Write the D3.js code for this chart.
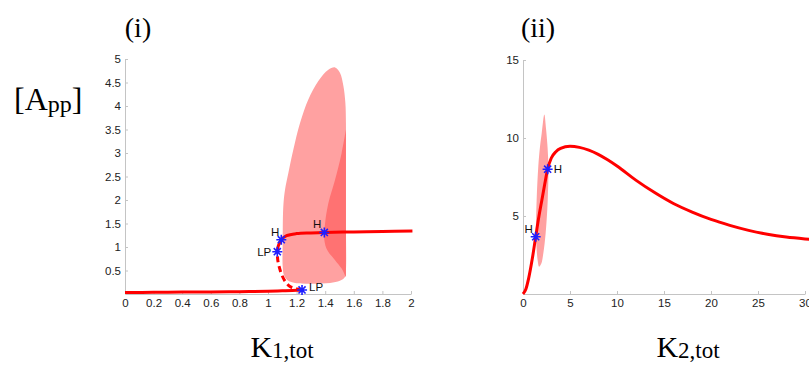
<!DOCTYPE html>
<html>
<head>
<meta charset="utf-8">
<script src="https://cdn.jsdelivr.net/npm/d3@7"></script>
<style>
  body { margin: 0; background: #fff; }
  .tick text { font-family: "Liberation Sans", Arial, sans-serif; font-size: 11.5px; fill: #222; }
  .serif { font-family: "Liberation Serif", "Times New Roman", serif; fill: #000; }
  .lbl { font-family: "Liberation Sans", Arial, sans-serif; font-size: 11.5px; fill: #111; }
</style>
</head>
<body>
<div id="chart"></div>
<script>
// panel (i): bifurcation in K1,tot
const k1Ticks = [0, 0.2, 0.4, 0.6, 0.8, 1, 1.2, 1.4, 1.6, 1.8, 2];
const app1Ticks = [0.5, 1, 1.5, 2, 2.5, 3, 3.5, 4, 4.5, 5];
const lowBranch = [[0, 0.03], [0.2, 0.035], [0.4, 0.04], [0.6, 0.045], [0.8, 0.05], [1.0, 0.06], [1.1, 0.068], [1.2, 0.078], [1.238, 0.086]];
const unstableBranch = [[1.238, 0.086], [1.19, 0.12], [1.154, 0.16], [1.12, 0.27], [1.096, 0.41], [1.078, 0.58], [1.068, 0.73], [1.065, 0.9]];
const upperBranch = [[1.065, 0.9], [1.072, 1.02], [1.093, 1.155], [1.13, 1.24], [1.2, 1.285], [1.3, 1.3], [1.394, 1.31], [1.6, 1.32], [1.8, 1.33], [2.01, 1.34]];
const cycleEnvelope = [[1.469, 4.82], [1.503, 4.71], [1.527, 4.43], [1.541, 4.07], [1.545, 3.64], [1.545, 2.57], [1.545, 1.5], [1.545, 0.51], [1.538, 0.36], [1.503, 0.28], [1.434, 0.235], [1.294, 0.22], [1.189, 0.235], [1.142, 0.28], [1.112, 0.4], [1.103, 0.58], [1.103, 1.15], [1.107, 1.86], [1.119, 2.22], [1.142, 2.57], [1.177, 3.07], [1.224, 3.64], [1.282, 4.14], [1.352, 4.53], [1.422, 4.77]];
const cycleInner = [[1.545, 3.5], [1.515, 3.0], [1.469, 2.43], [1.422, 1.93], [1.399, 1.5], [1.394, 1.15], [1.415, 0.93], [1.469, 0.72], [1.515, 0.54], [1.538, 0.4], [1.545, 0.36]];
const points1 = [
  { name: 'LP', x: 1.238, y: 0.086, dx: 7, dy: 1, anchor: 'start' },
  { name: 'LP', x: 1.065, y: 0.9, dx: -6, dy: 4, anchor: 'end' },
  { name: 'H', x: 1.093, y: 1.155, dx: -2, dy: -4, anchor: 'end' },
  { name: 'H', x: 1.394, y: 1.31, dx: -3, dy: -4, anchor: 'end' }
];

// panel (ii): bifurcation in K2,tot
const k2Ticks = [0, 5, 10, 15, 20, 25, 30];
const app2Ticks = [5, 10, 15];
const k2Curve = [[0, 0], [0.3, 0.3], [0.6, 1.0], [1.0, 2.3], [1.35, 3.67], [1.7, 5.0], [2.0, 6.0], [2.3, 7.0], [2.62, 8.0], [3.0, 8.7], [3.5, 9.12], [4, 9.33], [5, 9.47], [6, 9.4], [7, 9.22], [8, 8.95], [9, 8.6], [10, 8.2], [12, 7.3], [14, 6.5], [16, 5.8], [18, 5.25], [20, 4.78], [22, 4.4], [24, 4.08], [26, 3.83], [28, 3.65], [30, 3.53], [30.6, 3.5]];
const k2Envelope = [[2.27, 11.5], [2.45, 10.6], [2.59, 9.6], [2.7, 8.2], [2.63, 6.0], [2.41, 3.9], [2.16, 2.6], [1.95, 1.95], [1.72, 1.75], [1.55, 2.2], [1.42, 3.2], [1.38, 3.9], [1.45, 6.0], [1.63, 8.2], [1.82, 9.5], [1.99, 10.3], [2.12, 11.0]];
const points2 = [
  { name: 'H', x: 1.35, y: 3.67, dx: -3, dy: -4, anchor: 'end' },
  { name: 'H', x: 2.62, y: 8.0, dx: 6, dy: 4, anchor: 'start' }
];

const width = 809, height = 365;
const svg = d3.select('#chart').append('svg').attr('width', width).attr('height', height);

function starPath(r) {
  const a = r * Math.SQRT1_2;
  return `M${-r},0L${r},0M0,${-r}L0,${r}M${-a},${-a}L${a},${a}M${-a},${a}L${a},${-a}`;
}

function drawAxes(g, x, y, xt, yt) {
  const ax = g.append('g').attr('transform', `translate(0,${y.range()[0]})`)
    .call(d3.axisBottom(x).tickValues(xt).tickSizeInner(-3).tickSizeOuter(0).tickPadding(5).tickFormat(d3.format('~g')));
  const ay = g.append('g').attr('transform', `translate(${x.range()[0]},0)`)
    .call(d3.axisLeft(y).tickValues(yt).tickSizeInner(-3).tickSizeOuter(0).tickPadding(4).tickFormat(d3.format('~g')));
  [ax, ay].forEach(a => {
    a.select('.domain').attr('stroke', '#c4c4c4');
    a.selectAll('.tick line').attr('stroke', '#c4c4c4');
  });
}

function drawPoints(g, x, y, pts) {
  const p = g.append('g').selectAll('g').data(pts).enter().append('g')
    .attr('transform', d => `translate(${x(d.x)},${y(d.y)})`);
  p.append('path').attr('d', starPath(5)).attr('stroke', '#1f1fff').attr('stroke-width', 1.6).attr('fill', 'none');
  p.append('text').attr('class', 'lbl').attr('x', d => d.dx).attr('y', d => d.dy)
    .attr('text-anchor', d => d.anchor).text(d => d.name);
}

// panel (i)
const x1 = d3.scaleLinear().domain([0, 2]).range([125, 411]);
const y1 = d3.scaleLinear().domain([0, 5]).range([294, 59]);
const g1 = svg.append('g');
const area1 = d3.line().x(d => x1(d[0])).y(d => y1(d[1])).curve(d3.curveCatmullRomClosed);

drawAxes(g1, x1, y1, k1Ticks, app1Ticks);
g1.append('path').attr('d', area1(cycleEnvelope)).attr('fill', '#ffa1a1');
g1.append('path').attr('d', d3.line().x(d => x1(d[0])).y(d => y1(d[1])).curve(d3.curveCatmullRom)(cycleInner) + 'Z')
  .attr('fill', '#ff7272');
const c1 = d3.line().x(d => x1(d[0])).y(d => y1(d[1])).curve(d3.curveCatmullRom);
g1.append('path').attr('d', c1(lowBranch)).attr('fill', 'none').attr('stroke', '#ff0000').attr('stroke-width', 3);
g1.append('path').attr('d', c1(unstableBranch)).attr('fill', 'none').attr('stroke', '#ff0000').attr('stroke-width', 3).attr('stroke-dasharray', '6,4');
g1.append('path').attr('d', c1(upperBranch)).attr('fill', 'none').attr('stroke', '#ff0000').attr('stroke-width', 3);
drawPoints(g1, x1, y1, points1);

// panel (ii)
const x2 = d3.scaleLinear().domain([0, 30]).range([523, 805]);
const y2 = d3.scaleLinear().domain([0, 15]).range([294, 60]);
const g2 = svg.append('g');
drawAxes(g2, x2, y2, k2Ticks, app2Ticks);
g2.append('path').attr('d', d3.line().x(d => x2(d[0])).y(d => y2(d[1])).curve(d3.curveCatmullRomClosed)(k2Envelope)).attr('fill', '#ffa1a1');
g2.append('path').attr('d', d3.line().x(d => x2(d[0])).y(d => y2(d[1])).curve(d3.curveMonotoneX)(k2Curve))
  .attr('fill', 'none').attr('stroke', '#ff0000').attr('stroke-width', 3);
drawPoints(g2, x2, y2, points2);

// titles and axis names
svg.append('text').attr('class', 'serif').attr('x', 138).attr('y', 37).attr('text-anchor', 'middle').attr('font-size', 28).text('(i)');
svg.append('text').attr('class', 'serif').attr('x', 538).attr('y', 37).attr('text-anchor', 'middle').attr('font-size', 28).text('(ii)');

const ylab = svg.append('text').attr('class', 'serif').attr('x', 14).attr('y', 110).attr('font-size', 32);
ylab.append('tspan').text('[A');
ylab.append('tspan').attr('font-size', 24).attr('dy', 2).text('pp');
ylab.append('tspan').attr('dy', -2).text(']');

function kLabel(cx, sub) {
  const t = svg.append('text').attr('class', 'serif').attr('x', cx).attr('y', 357).attr('text-anchor', 'middle').attr('font-size', 30);
  t.append('tspan').text('K');
  t.append('tspan').attr('font-size', 23).attr('dy', 1).text(sub);
}
kLabel(282, '1,tot');
kLabel(688, '2,tot');
</script>
</body>
</html>
